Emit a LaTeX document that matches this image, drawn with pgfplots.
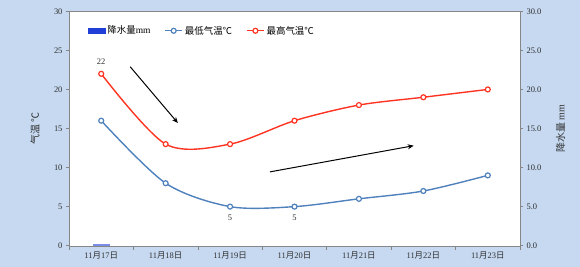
\documentclass[border=0pt]{standalone}
\usepackage{pgfplots}
\pgfplotsset{compat=1.18}
\usepackage{fontspec}
\setmainfont{Liberation Serif}
\newfontfamily\cjk{Noto Sans CJK SC}
\usetikzlibrary{arrows.meta}
\definecolor{bg}{HTML}{C6D9F1}
\definecolor{lowc}{HTML}{4F81BD}
\definecolor{highc}{HTML}{FF3322}
\definecolor{barc}{HTML}{1F3FD6}
\definecolor{axc}{HTML}{868686}
\definecolor{txt}{HTML}{303030}
\newcommand\D[1]{11{\cjk 月}#1{\cjk 日}}
\begin{document}
\begin{tikzpicture}
\useasboundingbox (0,0) rectangle (580bp,267bp);
\fill[bg] (0,0) rectangle (580bp,267bp);
\begin{axis}[
  at={(69bp,21.3bp)}, anchor=south west, scale only axis,
  width=451bp, height=234.4bp,
  xmin=-0.5, xmax=6.5, ymin=0, ymax=30,
  xtick={0,...,6},
  xticklabels={\D{17},\D{18},\D{19},\D{20},\D{21},\D{22},\D{23}},
  major x tick style={draw=none},
  minor xtick={-0.5,0.5,...,6.5},
  minor tick length=4bp, major tick length=3bp,
  ytick={0,5,...,30},
  tick align=outside, tick pos=left,
  axis line style={axc}, tick style={axc, line width=0.6pt},
  axis background/.style={fill=white},
  /pgf/number format/assume math mode=true,
  tick label style={font=\fontsize{8.5}{10}\selectfont, text=txt},
  ylabel={{\cjk 气温} {\cjk ℃}},
  every axis y label/.style={at={(axis description cs:-0.075,0.5)}, rotate=90, anchor=center, font=\fontsize{10}{12}\selectfont, text=txt},
  legend style={at={(0.035,0.955)}, anchor=north west, draw=none, fill=none,
    font=\fontsize{9.5}{11}\selectfont, legend columns=-1,
    /tikz/every even column/.append style={column sep=12bp}},
  legend cell align=left,
]
\addlegendimage{area legend, fill=barc, draw=barc}
\addlegendentry{{\cjk 降水量}mm}
\addplot[lowc, line width=1.4pt, smooth, mark=*, mark size=2.5pt,
  mark options={fill=white, draw=lowc, line width=1.2pt}]
  coordinates {(0,16) (1,8) (2,5) (3,5) (4,6) (5,7) (6,9)};
\addlegendentry{{\cjk 最低气温℃}}
\addplot[highc, line width=1.4pt, smooth, mark=*, mark size=2.5pt,
  mark options={fill=white, draw=highc, line width=1.2pt}]
  coordinates {(0,22) (1,13) (2,13) (3,16) (4,18) (5,19) (6,20)};
\addlegendentry{{\cjk 最高气温℃}}
\node[above, text=txt, font=\fontsize{8.5}{10}\selectfont, yshift=6bp] at (axis cs:0,22) {22};
\node[below, text=txt, font=\fontsize{8.5}{10}\selectfont, yshift=-5bp] at (axis cs:2,5) {5};
\node[below, text=txt, font=\fontsize{8.5}{10}\selectfont, yshift=-5bp] at (axis cs:3,5) {5};
\draw[black, line width=1pt, -{Stealth[length=6bp,width=5bp]}] (axis cs:0.45,22.9) -- (axis cs:1.19,15.7);
\draw[black, line width=1pt, -{Stealth[length=6bp,width=5bp]}] (axis cs:2.62,9.45) -- (axis cs:4.85,12.8);
\end{axis}
\begin{axis}[
  at={(69bp,21.3bp)}, anchor=south west, scale only axis,
  width=451bp, height=234.4bp,
  xmin=-0.5, xmax=6.5, ymin=0, ymax=30,
  axis x line=none, axis y line*=right,
  ytick={0,5,...,30},
  tick align=outside, major tick length=3bp,
  axis line style={axc}, tick style={axc, line width=0.6pt},
  /pgf/number format/assume math mode=true,
  /pgf/number format/.cd, fixed, fixed zerofill, precision=1, /pgfplots/.cd,
  tick label style={font=\fontsize{8.5}{10}\selectfont, text=txt},
  ylabel={{\cjk 降水量} mm},
  every axis y label/.style={at={(axis description cs:1.09,0.5)}, rotate=90, anchor=center, font=\fontsize{10}{12}\selectfont, text=txt},
]
\addplot[ybar, bar width=17bp, fill=barc!60!white, draw=none] coordinates {(0,0.25)};
\end{axis}
\end{tikzpicture}
\end{document}
